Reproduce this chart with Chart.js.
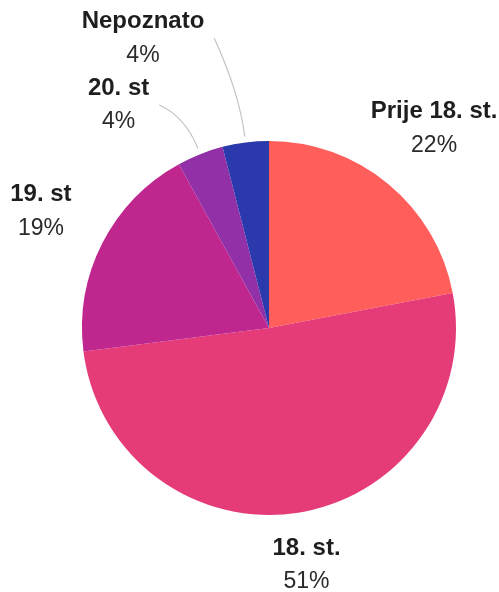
<!DOCTYPE html>
<html>
<head>
<meta charset="utf-8">
<title>Razdoblje</title>
<script src="https://cdn.jsdelivr.net/npm/chart.js@4/dist/chart.umd.min.js"></script>
<style>
  html, body { margin: 0; padding: 0; background: #ffffff; }
  canvas { display: block; }
</style>
</head>
<body>
<canvas id="pie" width="499" height="592"></canvas>
<script>
// Category names and their shares (percent)
const categories = ['Prije 18. st.', '18. st.', '19. st', '20. st', 'Nepoznato'];
const shares = [22, 51, 19, 4, 4];
const sliceColors = ['#FF5E5B', '#E53B79', '#BF278F', '#9230A8', '#2A39AC'];

// Label placement around the pie: distance beyond the rim (px) and
// angular shift from the slice's middle (degrees); small slices get a leader line.
const labelGap = [72, 53, 69, 82, 129];
const labelShift = [0, 0, 0, -12.4, -16.3];
const leaderBend = [0, 0, 0, 40, 50];

const FONT = '"Liberation Sans", Arial, sans-serif';
const LINE_GAP = 17;

const outerLabels = {
  id: 'outerLabels',
  afterDraw(chart) {
    const ctx = chart.ctx;
    const meta = chart.getDatasetMeta(0);
    meta.data.forEach((arc, i) => {
      const { x, y, startAngle, endAngle, outerRadius } = arc.getProps(
        ['x', 'y', 'startAngle', 'endAngle', 'outerRadius'], true);
      const mid = (startAngle + endAngle) / 2;
      const a = mid + labelShift[i] * Math.PI / 180;
      const d = outerRadius + labelGap[i];
      const cx = x + Math.cos(a) * d;
      const cy = y + Math.sin(a) * d;

      const name = categories[i];
      const pct = shares[i] + '%';

      ctx.save();
      ctx.textAlign = 'center';
      ctx.textBaseline = 'middle';
      ctx.fillStyle = '#1e1e1e';
      ctx.font = 'bold 24px ' + FONT;
      const w1 = ctx.measureText(name).width;
      ctx.fillText(name, cx, cy - LINE_GAP);
      ctx.font = '23px ' + FONT;
      ctx.fillStyle = '#2a2a2a';
      const w2 = ctx.measureText(pct).width;
      ctx.fillText(pct, cx, cy + LINE_GAP);

      if (leaderBend[i] > 0) {
        const sx = cx + Math.max(w1, w2) / 2 + 10;
        const sy = cy;
        const ex = x + Math.cos(mid) * (outerRadius + 6);
        const ey = y + Math.sin(mid) * (outerRadius + 6);
        const qx = x + Math.cos(mid) * (outerRadius + leaderBend[i]);
        const qy = y + Math.sin(mid) * (outerRadius + leaderBend[i]);
        ctx.beginPath();
        ctx.moveTo(sx, sy);
        ctx.quadraticCurveTo(qx, qy, ex, ey);
        ctx.strokeStyle = '#c4c4c4';
        ctx.lineWidth = 1.2;
        ctx.stroke();
      }
      ctx.restore();
    });
  }
};

new Chart(document.getElementById('pie'), {
  type: 'pie',
  data: {
    labels: categories,
    datasets: [{
      data: shares,
      backgroundColor: sliceColors,
      borderWidth: 0
    }]
  },
  options: {
    responsive: false,
    animation: false,
    layout: { padding: { left: 82, right: 43, top: 141, bottom: 77 } },
    plugins: {
      legend: { display: false },
      tooltip: { enabled: false }
    }
  },
  plugins: [outerLabels]
});
</script>
</body>
</html>
